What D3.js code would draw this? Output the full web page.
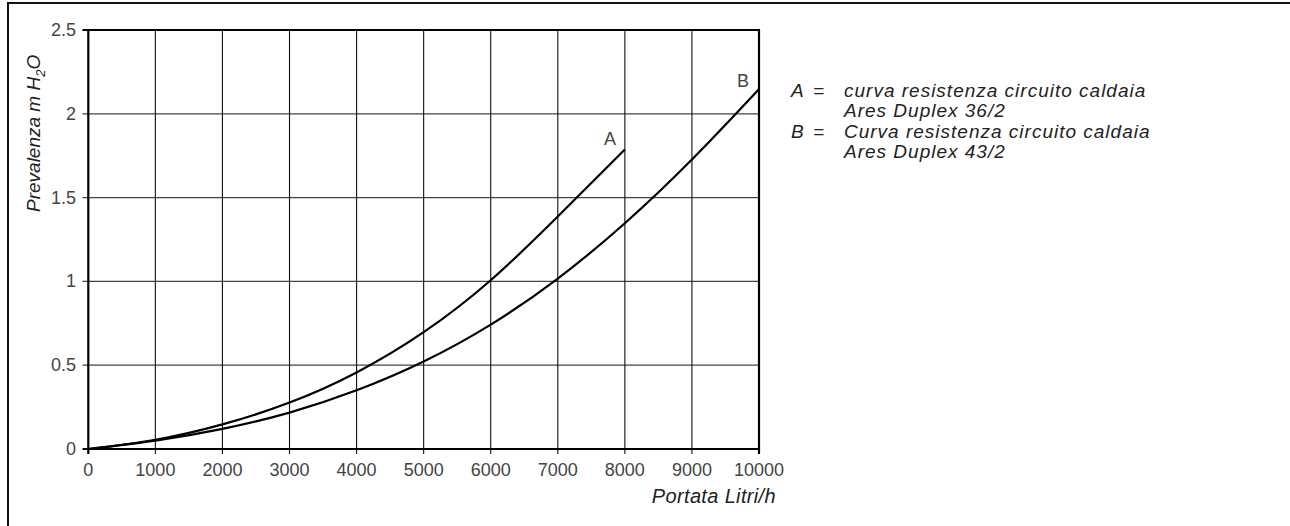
<!DOCTYPE html>
<html><head><meta charset="utf-8">
<script src="https://cdn.jsdelivr.net/npm/d3@7"></script>
<style>html,body{margin:0;padding:0;background:#fff;}svg{display:block;}</style>
</head><body><svg id="c" width="1290" height="526"></svg>
<script>
const xTicks = [0,1000,2000,3000,4000,5000,6000,7000,8000,9000,10000];
const yTicks = [0,0.5,1,1.5,2,2.5];
const yTickLabels = ["0","0.5","1","1.5","2","2.5"];
const flowA = [0,1000,2000,3000,4000,5000,6000,7000,8000];
const headA = [0,0.055,0.147,0.277,0.457,0.697,1.007,1.387,1.787];
const flowB = [0,1000,2000,3000,4000,5000,6000,7000,8000,9000,10000];
const headB = [0,0.05,0.12,0.217,0.35,0.522,0.742,1.017,1.347,1.727,2.147];
const legendKeys = ["A", "", "B", ""];
const legendTexts = ["curva resistenza circuito caldaia", "Ares Duplex 36/2", "Curva resistenza circuito caldaia", "Ares Duplex 43/2"];

const svg = d3.select("#c");
const x = d3.scaleLinear().domain([0,10000]).range([88.3,759]);
const y = d3.scaleLinear().domain([0,2.5]).range([449,30]);

// outer frame
svg.append("rect").attr("x",8).attr("y",3).attr("width",1400).attr("height",600)
  .attr("fill","none").attr("stroke","#111").attr("stroke-width",2);

const tickFont = "'Liberation Sans', Arial, sans-serif";

// horizontal grid
svg.append("g").selectAll("line").data(yTicks.slice(1,-1)).join("line")
  .attr("x1",82.5).attr("x2",x(10000)).attr("y1",d=>y(d)).attr("y2",d=>y(d))
  .attr("stroke","#444").attr("stroke-width",1.3);
// vertical grid
svg.append("g").selectAll("line").data(xTicks.slice(1,-1)).join("line")
  .attr("x1",d=>x(d)).attr("x2",d=>x(d)).attr("y1",y(2.5)).attr("y2",454)
  .attr("stroke","#111").attr("stroke-width",1.1);
// frame
svg.append("line").attr("x1",x(0)).attr("x2",x(0)).attr("y1",y(2.5)).attr("y2",y(0)+1).attr("stroke","#000").attr("stroke-width",2.2);
svg.append("line").attr("x1",x(10000)).attr("x2",x(10000)).attr("y1",y(2.5)).attr("y2",454).attr("stroke","#000").attr("stroke-width",2.2);
svg.append("line").attr("x1",82.5).attr("x2",x(10000)+1).attr("y1",y(2.5)).attr("y2",y(2.5)).attr("stroke","#000").attr("stroke-width",2.2);
svg.append("line").attr("x1",82.5).attr("x2",x(10000)+1).attr("y1",y(0)).attr("y2",y(0)).attr("stroke","#000").attr("stroke-width",2.2);
svg.append("line").attr("x1",x(0)).attr("x2",x(0)).attr("y1",y(0)).attr("y2",454).attr("stroke","#000").attr("stroke-width",2.2);

// tick labels
svg.append("g").selectAll("text").data(yTicks).join("text")
  .attr("x",76).attr("y",d=>y(d)+6).attr("text-anchor","end")
  .attr("font-family",tickFont).attr("font-size",18).attr("fill","#444")
  .text((d,i)=>yTickLabels[i]);
svg.append("g").selectAll("text").data(xTicks).join("text")
  .attr("x",d=>x(d)).attr("y",476).attr("text-anchor","middle")
  .attr("font-family",tickFont).attr("font-size",18).attr("fill","#444")
  .text(d=>String(d));

// curves
const line = d3.line().x(d=>x(d[0])).y(d=>y(d[1])).curve(d3.curveNatural);
svg.append("path").datum(flowA.map((f,i)=>[f,headA[i]])).attr("d",line)
  .attr("fill","none").attr("stroke","#000").attr("stroke-width",2.2);
svg.append("path").datum(flowB.map((f,i)=>[f,headB[i]])).attr("d",line)
  .attr("fill","none").attr("stroke","#000").attr("stroke-width",2.2);

// curve labels
svg.append("text").attr("x",x(7780)).attr("y",y(1.79)-4).attr("text-anchor","middle")
  .attr("font-family",tickFont).attr("font-size",18).attr("fill","#444").text("A");
svg.append("text").attr("x",x(9760)).attr("y",y(2.14)-3).attr("text-anchor","middle")
  .attr("font-family",tickFont).attr("font-size",18).attr("fill","#444").text("B");

// axis titles
const itFont = "'Liberation Sans', Arial, sans-serif";
svg.append("text").attr("x",776).attr("y",503).attr("text-anchor","end")
  .attr("font-family",itFont).attr("font-style","italic").attr("font-size",20)
  .attr("letter-spacing",0.35).attr("fill","#222")
  .text("Portata Litri/h");
const yt = svg.append("text").attr("transform","translate(40,212) rotate(-90)")
  .attr("font-family",itFont).attr("font-style","italic").attr("font-size",19).attr("fill","#222");
yt.append("tspan").text("Prevalenza m H");
yt.append("tspan").attr("font-size",13).attr("dy",5).text("2");
yt.append("tspan").attr("dy",-5).text("O");

// legend
const lg = svg.append("g")
  .attr("font-family",itFont).attr("font-style","italic").attr("font-size",19).attr("fill","#222");
lg.selectAll("text.k").data(legendKeys).join("text").attr("class","k")
  .attr("x",791).attr("y",(d,i)=>97+i*20.3).text(d=>d);
lg.selectAll("text.e").data(legendKeys).join("text").attr("class","e")
  .attr("x",813).attr("y",(d,i)=>97+i*20.3).text(d=>d ? "=" : "");
lg.selectAll("text.v").data(legendTexts).join("text").attr("class","v")
  .attr("x",844).attr("y",(d,i)=>97+i*20.3).attr("letter-spacing",1).text(d=>d);
</script></body></html>
